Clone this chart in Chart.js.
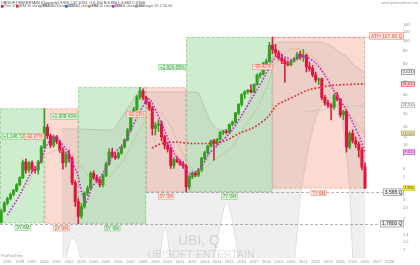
<!DOCTYPE html>
<html>
<head>
<meta charset="utf-8">
<script src="https://cdn.jsdelivr.net/npm/chart.js@4.4.1/dist/chart.umd.min.js"></script>
<style>
  html, body { margin: 0; padding: 0; background: #fff; }
  #wrap { width: 420px; height: 265px; }
</style>
</head>
<body>
<div id="wrap"><canvas id="chart" width="420" height="265"></canvas></div>
<script>
// quarterly candles, first one is 1996 Q3
const firstQuarter = 1996.5;
const opens = [1.84, 2.35, 2.8, 3.1, 3.4, 3.7, 4.2, 4.9, 6.9, 5.8, 6.8, 5.9, 5.8, 6.9, 9.6, 14.9, 12.3, 10.0, 12.0, 10.8,
  9.0, 6.8, 8.2, 7.5, 4.4, 2.9, 2.1, 2.6, 3.5, 3.9, 5.4, 4.9, 4.6, 4.2, 5.1, 6.6, 8.6, 7.9, 7.6, 8.4,
  9.6, 11.2, 14.0, 19.0, 22.0, 29.0, 33.0, 28.5, 25.5, 22.5, 14.5, 15.5, 16.0, 12.0, 10.0, 9.2, 6.4, 7.3, 7.0, 6.6,
  6.3, 4.0, 5.0, 5.4, 5.2, 5.8, 7.5, 8.5, 9.8, 11.0, 10.4, 11.4, 13.2, 13.6, 13.3, 15.8, 16.6, 20.3, 24.5, 30.5,
  32.5, 33.5, 32.2, 38.0, 46.5, 48.0, 60.5, 63.0, 90.0, 82.0, 76.0, 68.0, 64.0, 60.0, 58.5, 63.5, 67.0, 74.0, 69.0, 72.0,
  56.0, 54.0, 47.0, 42.0, 43.0, 28.5, 25.3, 24.2, 23.0, 30.0, 27.5, 19.5, 21.0, 9.6, 13.0, 11.0, 10.2, 9.0, 6.2];
const highs = [2.45, 2.9, 3.2, 3.5, 3.8, 4.3, 5.0, 7.2, 7.4, 7.0, 7.1, 6.3, 7.2, 9.9, 22.44, 15.8, 12.8, 12.5, 12.4, 11.2,
  9.5, 8.6, 9.0, 7.8, 4.6, 3.1, 2.8, 3.6, 4.1, 5.6, 5.7, 5.2, 4.8, 5.3, 6.9, 9.3, 9.4, 8.6, 8.6, 9.8,
  11.5, 14.5, 19.5, 23.0, 30.0, 35.75, 34.5, 29.5, 26.0, 23.5, 16.5, 17.5, 17.0, 12.5, 10.6, 9.6, 7.6, 7.8, 7.3, 7.0,
  6.6, 5.2, 5.6, 5.6, 6.0, 7.7, 8.8, 10.0, 11.2, 11.4, 11.6, 13.6, 13.9, 14.0, 16.0, 17.0, 20.6, 25.0, 31.0, 33.0,
  34.0, 38.0, 38.5, 48.0, 49.0, 62.0, 66.0, 96.0, 107.9, 92.0, 80.0, 74.0, 67.0, 64.0, 65.0, 69.0, 77.0, 79.0, 82.0, 74.0,
  62.0, 58.0, 50.0, 44.0, 44.0, 30.0, 27.0, 25.0, 31.0, 32.0, 28.0, 21.5, 22.0, 13.5, 14.0, 12.0, 10.8, 9.5, 6.8];
const lows = [1.80, 2.3, 2.7, 3.0, 3.3, 3.6, 4.1, 4.8, 5.4, 5.5, 5.6, 5.4, 5.3, 6.7, 9.3, 11.5, 9.5, 9.6, 10.3, 8.5,
  5.9, 6.2, 6.9, 4.2, 2.6, 1.78, 2.0, 2.5, 3.3, 3.8, 4.7, 4.4, 4.0, 4.0, 5.0, 6.4, 7.6, 7.3, 7.4, 8.2,
  9.4, 11.0, 13.6, 18.5, 21.5, 27.5, 27.0, 24.5, 21.5, 12.5, 12.5, 13.5, 11.0, 9.2, 8.6, 6.0, 6.0, 6.8, 6.4, 6.0,
  3.565, 3.8, 4.8, 5.0, 5.0, 5.6, 7.2, 8.2, 9.6, 7.2, 10.0, 11.2, 12.6, 12.9, 13.0, 15.2, 16.2, 19.5, 23.5, 28.0,
  31.0, 31.5, 31.8, 37.5, 44.0, 47.0, 58.0, 62.0, 75.0, 70.0, 65.0, 60.0, 40.0, 57.0, 57.0, 62.0, 65.0, 66.0, 63.0, 50.0,
  51.0, 45.0, 40.0, 38.0, 27.0, 24.0, 23.0, 17.4, 22.0, 26.5, 18.5, 17.5, 8.6, 9.2, 10.5, 9.5, 7.7, 5.8, 3.863];
const closes = [2.35, 2.8, 3.1, 3.4, 3.7, 4.2, 4.9, 6.9, 5.8, 6.8, 5.9, 5.8, 6.9, 9.6, 14.9, 12.3, 10.0, 12.0, 10.8, 9.0,
  6.8, 8.2, 7.5, 4.4, 2.9, 2.1, 2.6, 3.5, 3.9, 5.4, 4.9, 4.6, 4.2, 5.1, 6.6, 8.6, 7.9, 7.6, 8.4, 9.6,
  11.2, 14.0, 19.0, 22.0, 29.0, 33.0, 28.5, 25.5, 22.5, 14.5, 15.5, 16.0, 12.0, 10.0, 9.2, 6.4, 7.3, 7.0, 6.6, 6.3,
  4.0, 5.0, 5.4, 5.2, 5.8, 7.5, 8.5, 9.8, 11.0, 10.4, 11.4, 13.2, 13.6, 13.3, 15.8, 16.6, 20.3, 24.5, 30.5, 32.5,
  33.5, 32.2, 38.0, 46.5, 48.0, 60.5, 63.0, 90.0, 82.0, 76.0, 68.0, 64.0, 60.0, 58.5, 63.5, 67.0, 74.0, 69.0, 72.0, 56.0,
  54.0, 47.0, 42.0, 43.0, 28.5, 25.3, 24.2, 23.0, 30.0, 27.5, 19.5, 21.0, 9.6, 13.0, 11.0, 10.2, 9.0, 6.2, 3.9];

// moving averages
const maFastYears = [1997.0, 1998.0, 1998.83, 1999.64, 2000.2, 2000.7, 2001.0, 2001.8, 2002.2, 2002.7, 2003.1, 2003.4,
  2003.85, 2004.35, 2004.9, 2005.7, 2006.5, 2007.1, 2007.6, 2008.3, 2008.55, 2009.1, 2009.8, 2010.6, 2011.15, 2011.65,
  2012.05, 2012.8, 2013.4, 2014.2, 2015.05, 2015.85, 2016.65, 2017.3, 2018.05, 2018.45, 2018.95, 2019.5, 2020.15,
  2020.95, 2021.9, 2022.75, 2023.55, 2024.35, 2025.0, 2025.6, 2026.0];
const maFast = [2.15, 3.34, 5.2, 6.9, 10.0, 12.0, 11.7, 9.0, 7.2, 5.2, 3.3, 2.86, 3.98, 4.66, 5.8, 8.4, 10.7, 14.6, 19.4,
  27.0, 27.5, 20.7, 13.4, 8.1, 6.7, 5.5, 5.4, 6.45, 8.4, 10.4, 13.1, 18.2, 25.8, 34.5, 50.0, 62.3, 72.0, 69.5, 65.0, 71.0,
  62.3, 46.5, 32.2, 23.1, 16.6, 11.7, 8.6];
const maMidYears = [1998.67, 1999.4, 2000.2, 2001.0, 2001.6, 2002.3, 2003.0, 2003.6, 2004.2, 2004.6, 2005.0, 2006.3,
  2007.3, 2008.1, 2008.7, 2009.1, 2010.2, 2011.0, 2011.8, 2012.3, 2013.8, 2015.3, 2016.1, 2017.25, 2018.1, 2018.6,
  2019.1, 2020.1, 2021.1, 2022.2, 2023.0, 2023.8, 2024.6, 2025.4, 2026.0];
const maMid = [4.17, 6.45, 8.1, 9.0, 8.6, 7.2, 6.3, 5.0, 4.4, 4.3, 4.6, 6.9, 11.2, 16.6, 20.7, 21.7, 15.6, 9.4, 6.45, 5.5,
  7.2, 10.0, 14.3, 22.6, 37.5, 58.4, 68.0, 84.0, 77.6, 62.3, 41.9, 28.8, 20.7, 15.6, 13.0];
const maLongYears = [2008.72, 2009.53, 2010.59, 2011.97, 2013.02, 2013.67, 2014.8, 2015.86, 2016.91, 2018.05, 2018.86,
  2019.67, 2020.48, 2021.37, 2022.5, 2023.56, 2026.0];
const maLong = [9.4, 10.4, 10.7, 10.4, 10.4, 10.4, 11.2, 13.1, 14.6, 18.2, 24.2, 27.0, 30.0, 33.6, 35.9, 37.5, 38.4];
const maSlowYears = [2021.3, 2022.35, 2023.97, 2026.0];
const maSlow = [20.7, 21.7, 23.1, 24.2];

// bollinger envelope
const bandYears = [2001.4, 2001.8, 2002.3, 2002.9, 2003.3, 2005.5, 2006.1, 2006.9, 2007.75, 2008.55, 2009.35, 2009.8,
  2010.2, 2010.6, 2012.4, 2013.0, 2013.4, 2013.8, 2014.4, 2014.75, 2015.45, 2015.7, 2016.25, 2017.1, 2018.1, 2019.1,
  2020.3, 2020.75, 2021.4, 2022.2, 2023.15, 2024.0, 2024.45, 2024.8, 2025.0, 2025.3, 2026.0];
const bandUpper = [14.3, 14.3, 14.3, 14.3, 14.2, 14.0, 17.4, 24.0, 32.2, 32.2, 32.2, 32.2, 32.2, 32.2, 32.0, 22.6, 17.5,
  15.2, 14.0, 14.2, 14.6, 16.5, 21.7, 37.5, 72.0, 96.7, 96.7, 96.7, 96.7, 96.7, 90.0, 76.0, 71.0, 64.0, 60.0, 56.0, 50.0];
const bandLower = [0.3, 0.85, 1.3, 0.85, 0.3, 0.3, 0.3, 0.3, 0.3, 0.3, 0.85, 1.65, 0.85, 0.3, 0.3, 0.3, 0.3, 0.85, 2.0,
  2.86, 1.4, 0.85, 0.3, 0.3, 0.3, 0.3, 0.85, 3.0, 9.0, 20.7, 25.3, 20.7, 9.0, 3.0, 0.85, 0.3, 0.3];

// swings: start, end, low, high
const swingStart = [1996.5, 2000.0, 2002.75, 2008.25, 2011.5, 2018.5];
const swingEnd = [2000.0, 2002.75, 2008.25, 2011.5, 2018.5, 2026.0];
const swingLow = [1.80, 1.78, 1.78, 3.565, 3.565, 3.863];
const swingHigh = [22.44, 22.44, 35.75, 35.75, 107.9, 107.9];
const swingMove = ['+1,146.72%', '-92.07%', '+1,908.43%', '-90.03%', '+2,926.65%', '-96.42%'];
const swingSpan = ['3Y 6M', '2Y 9M', '5Y 6M', '3Y 3M', '7Y 0M', '7Y 6M'];
const athPrice = 107.9;
const supportLevels = [3.565, 1.78];
const supportText = ['3.565 Q', '1.7800 Q'];

const priceTicks = [140, 120, 100, 80, 60, 50, 40, 30, 25, 20, 15, 12, 10, 8, 6, 5, 4, 3, 2.5, 2, 1.4, 1.2, 1];
const yearTicks = [1997, 1998, 1999, 2000, 2001, 2002, 2003, 2004, 2005, 2006, 2007, 2008, 2009, 2010, 2011, 2012,
  2013, 2014, 2015, 2016, 2017, 2018, 2019, 2020, 2021, 2022, 2023, 2024, 2025, 2026, 2027, 2028];

const UP = '#33a01f', DOWN = '#e0143c';
const GREEN_FILL = 'rgba(60,180,60,0.25)', RED_FILL = 'rgba(240,110,70,0.25)';

const years = closes.map((c, i) => firstQuarter + i * 0.25);
const candleColor = closes.map((c, i) => (c >= opens[i] ? UP : DOWN));
const pts = (xs, ys) => xs.map((v, i) => ({ x: v, y: ys[i] }));

Chart.defaults.font.family = "'Liberation Sans', Arial, sans-serif";

function tag(ctx, text, xr, ym, o) {
  ctx.font = o.font;
  const w = ctx.measureText(text).width + 3, h = o.h;
  let x0 = o.center ? xr - w / 2 : xr - w;
  if (o.minX !== undefined && x0 < o.minX) x0 = o.minX;
  ctx.fillStyle = o.bg;
  ctx.fillRect(x0, ym - h / 2, w, h);
  ctx.strokeStyle = o.border;
  ctx.lineWidth = 0.6;
  ctx.strokeRect(x0 + 0.3, ym - h / 2 + 0.3, w - 0.6, h - 0.6);
  ctx.fillStyle = o.fg;
  ctx.textAlign = 'center';
  ctx.textBaseline = 'middle';
  ctx.fillText(text, x0 + w / 2, ym + 0.3);
}

const overlay = {
  id: 'overlay',
  beforeDatasetsDraw(chart) {
    const { ctx, chartArea: a, scales: { x, y } } = chart;
    ctx.save();
    ctx.beginPath();
    ctx.rect(a.left, a.top, a.right - a.left, a.bottom - a.top);
    ctx.clip();
    swingStart.forEach((s, k) => {
      const up = swingMove[k][0] === '+';
      const x0 = k === 0 ? a.left : x.getPixelForValue(s);
      const x1 = x.getPixelForValue(swingEnd[k]);
      const yt = y.getPixelForValue(swingHigh[k]), yb = y.getPixelForValue(swingLow[k]);
      ctx.fillStyle = up ? GREEN_FILL : RED_FILL;
      ctx.fillRect(x0, yt, x1 - x0, yb - yt);
      ctx.setLineDash([3, 2]);
      ctx.lineWidth = 0.8;
      ctx.strokeStyle = up ? 'rgba(60,170,60,0.45)' : 'rgba(235,110,80,0.5)';
      ctx.strokeRect(x0 + 0.4, yt + 0.4, x1 - x0 - 0.8, yb - yt - 0.8);
    });
    ctx.setLineDash([]);
    // watermark
    ctx.fillStyle = 'rgba(150,150,150,0.3)';
    ctx.textAlign = 'center';
    ctx.textBaseline = 'alphabetic';
    ctx.font = "14px 'Liberation Sans', Arial";
    ctx.fillText('UBI, Q', 199, 245);
    ctx.font = "10.5px 'Liberation Sans', Arial";
    ctx.fillText('UBISOFT ENTERTAIN', 201, 258);
    ctx.restore();
  },
  afterDatasetsDraw(chart) {
    const { ctx, chartArea: a, scales: { x, y } } = chart;
    ctx.save();
    // dashed levels
    ctx.setLineDash([3, 2]);
    ctx.lineWidth = 0.8;
    const yAth = y.getPixelForValue(athPrice);
    ctx.strokeStyle = 'rgba(235,110,90,0.6)';
    ctx.beginPath();
    ctx.moveTo(x.getPixelForValue(swingStart[5]), yAth + 0.5);
    ctx.lineTo(376, yAth + 0.5);
    ctx.stroke();
    ctx.strokeStyle = 'rgba(120,120,120,0.7)';
    supportLevels.forEach((p, k) => {
      const yy = Math.round(y.getPixelForValue(p)) + 0.5;
      ctx.beginPath();
      ctx.moveTo(k === 0 ? x.getPixelForValue(swingStart[3]) : a.left, yy);
      ctx.lineTo(386, yy);
      ctx.stroke();
    });
    ctx.setLineDash([]);
    // move and span labels
    swingStart.forEach((s, k) => {
      const up = swingMove[k][0] === '+';
      const mid = (swingLow[k] + swingHigh[k]) / 2;
      tag(ctx, swingMove[k], x.getPixelForValue(s), y.getPixelForValue(mid), {
        font: "4.6px 'Liberation Sans', Arial", h: 6, minX: 2,
        bg: up ? 'rgba(225,245,222,0.95)' : 'rgba(253,232,225,0.95)',
        border: up ? 'rgba(80,180,80,0.7)' : 'rgba(235,100,80,0.7)',
        fg: up ? '#3a9a3a' : '#e5533d'
      });
      const cx = (x.getPixelForValue(s) + x.getPixelForValue(swingEnd[k])) / 2;
      tag(ctx, swingSpan[k], cx, y.getPixelForValue(swingLow[k]) + 4.5, {
        font: "4.6px 'Liberation Sans', Arial", h: 6, center: true,
        bg: up ? 'rgba(225,245,222,0.95)' : 'rgba(253,232,225,0.95)',
        border: up ? 'rgba(80,180,80,0.6)' : 'rgba(235,100,80,0.6)',
        fg: up ? '#3a9a3a' : '#e5533d'
      });
    });
    tag(ctx, 'ATH ' + athPrice.toFixed(2) + ' Q', 404, yAth - 1, {
      font: "5px 'Liberation Sans', Arial", h: 7,
      bg: '#fdeae4', border: 'rgba(235,100,80,0.8)', fg: '#e5533d'
    });
    supportLevels.forEach((p, k) => {
      tag(ctx, supportText[k], 404, y.getPixelForValue(p), {
        font: "5px 'Liberation Sans', Arial", h: 7,
        bg: '#f0f0f0', border: '#888', fg: '#222'
      });
    });
    ctx.restore();
  },
  afterDraw(chart) {
    const { ctx, scales: { y } } = chart;
    ctx.save();
    // value tags on price axis
    const tags = [
      [bandUpper[bandUpper.length - 1], '#fff', '#555', '#333'],
      [maLong[maLong.length - 1], '#fbd9dc', '#e0283c', '#c01830'],
      [maSlow[maSlow.length - 1], '#fff', '#999', '#666'],
      [maMid[maMid.length - 1], '#f4ecc8', '#b59a3a', '#806a20'],
      [maFast[maFast.length - 1], '#f6d0f6', '#cc22cc', '#a010a0'],
      [closes[closes.length - 1], '#f6f03c', '#c8b800', '#333']
    ];
    tags.forEach(([v, bg, border, fg]) => {
      tag(ctx, v.toFixed(3), 415, y.getPixelForValue(v), {
        font: "3.6px 'Liberation Sans', Arial", h: 5, bg, border, fg
      });
    });
    // header
    ctx.textAlign = 'left';
    ctx.textBaseline = 'middle';
    ctx.font = "3.8px 'Liberation Sans', Arial";
    ctx.fillStyle = '#444';
    ctx.fillText('UBISOFT ENTERTAIN (Quarterly) 3.900 (-37.10%)  O:6.200 H:6.800 L:3.863 C:3.900', 1, 2.6);
    const items = [
      ['Prix', closes[closes.length - 1], DOWN, 1],
      ['MM 50 close', maLong[maLong.length - 1], '#e0283c', 16],
      ['MM 100 close', maSlow[maSlow.length - 1], '#aaa', 39],
      ['MM 20 close', 9.84, '#2060e0', 65],
      ['MM 10 close', maMid[maMid.length - 1], '#b59a3a', 88],
      ['MM 4 close', maFast[maFast.length - 1], '#cc22cc', 112],
      ['Bollinger 20 2', bandUpper[bandUpper.length - 1], '#999', 135]
    ];
    items.forEach(([name, v, col, x0]) => {
      ctx.fillStyle = col;
      ctx.fillRect(x0, 5, 2.6, 2.6);
      ctx.fillStyle = '#666';
      ctx.fillText(name + ' ' + v.toFixed(2), x0 + 3.6, 6.4);
    });
    ctx.fillStyle = '#999';
    ctx.textAlign = 'right';
    ctx.fillText('www.prorealtime.com', 418, 2.6);
    ctx.textAlign = 'left';
    ctx.fillText('ProRealTime', 1, 256);
    ctx.restore();
  }
};

new Chart(document.getElementById('chart'), {
  type: 'bar',
  data: {
    datasets: [
      { type: 'line', data: pts(bandYears, bandUpper), borderColor: 'rgba(150,150,150,0.55)', borderWidth: 0.7,
        pointRadius: 0, fill: '+1', backgroundColor: 'rgba(128,128,128,0.13)', cubicInterpolationMode: 'monotone', order: 10 },
      { type: 'line', data: pts(bandYears, bandLower), borderColor: 'rgba(150,150,150,0.4)', borderWidth: 0.6,
        pointRadius: 0, fill: false, cubicInterpolationMode: 'monotone', order: 10 },
      { data: years.map((t, i) => ({ x: t, y: [lows[i], highs[i]] })), backgroundColor: candleColor,
        barThickness: 0.9, grouped: false, order: 6 },
      { data: years.map((t, i) => ({ x: t, y: [opens[i], closes[i]] })), backgroundColor: candleColor,
        barThickness: 2.4, grouped: false, order: 5 },
      { type: 'line', data: pts(maSlowYears, maSlow), borderColor: '#a8a8a8', borderWidth: 0.9,
        borderDash: [1, 1.5], pointRadius: 0, tension: 0.3, order: 4 },
      { type: 'line', data: pts(maLongYears, maLong), borderColor: '#e8283c', borderWidth: 1.6,
        borderDash: [1.8, 1.8], pointRadius: 0, tension: 0.3, order: 3 },
      { type: 'line', data: pts(maMidYears, maMid), borderColor: '#c9a24a', borderWidth: 0.8,
        borderDash: [1, 1.2], pointRadius: 0, tension: 0.3, order: 2 },
      { type: 'line', data: pts(maFastYears, maFast), borderColor: '#d21ed2', borderWidth: 1.6,
        borderDash: [1.6, 1.6], pointRadius: 0, tension: 0.3, order: 1 }
    ]
  },
  options: {
    responsive: false,
    devicePixelRatio: 1,
    animation: false,
    layout: { padding: { top: 10, left: 0, right: 0, bottom: 0 } },
    plugins: { legend: { display: false }, tooltip: { enabled: false } },
    scales: {
      x: {
        type: 'linear', min: 1996.4, max: 2028.84, offset: false,
        grid: { display: false, drawTicks: false }, border: { display: false },
        afterBuildTicks: s => { s.ticks = yearTicks.map(v => ({ value: v })); },
        afterFit: s => { s.height = 7; },
        ticks: { autoSkip: false, maxRotation: 0, padding: 1.5, color: '#999', font: { size: 4 }, callback: v => String(v) }
      },
      y: {
        type: 'logarithmic', position: 'right', min: 0.8386, max: 195.3,
        grid: { display: false, drawTicks: false }, border: { display: false },
        afterBuildTicks: s => { s.ticks = priceTicks.map(v => ({ value: v })); },
        afterFit: s => { s.width = 20; },
        ticks: { autoSkip: false, padding: 3, color: '#888', font: { size: 4 }, callback: v => String(v) }
      }
    }
  },
  plugins: [overlay]
});
</script>
</body>
</html>
